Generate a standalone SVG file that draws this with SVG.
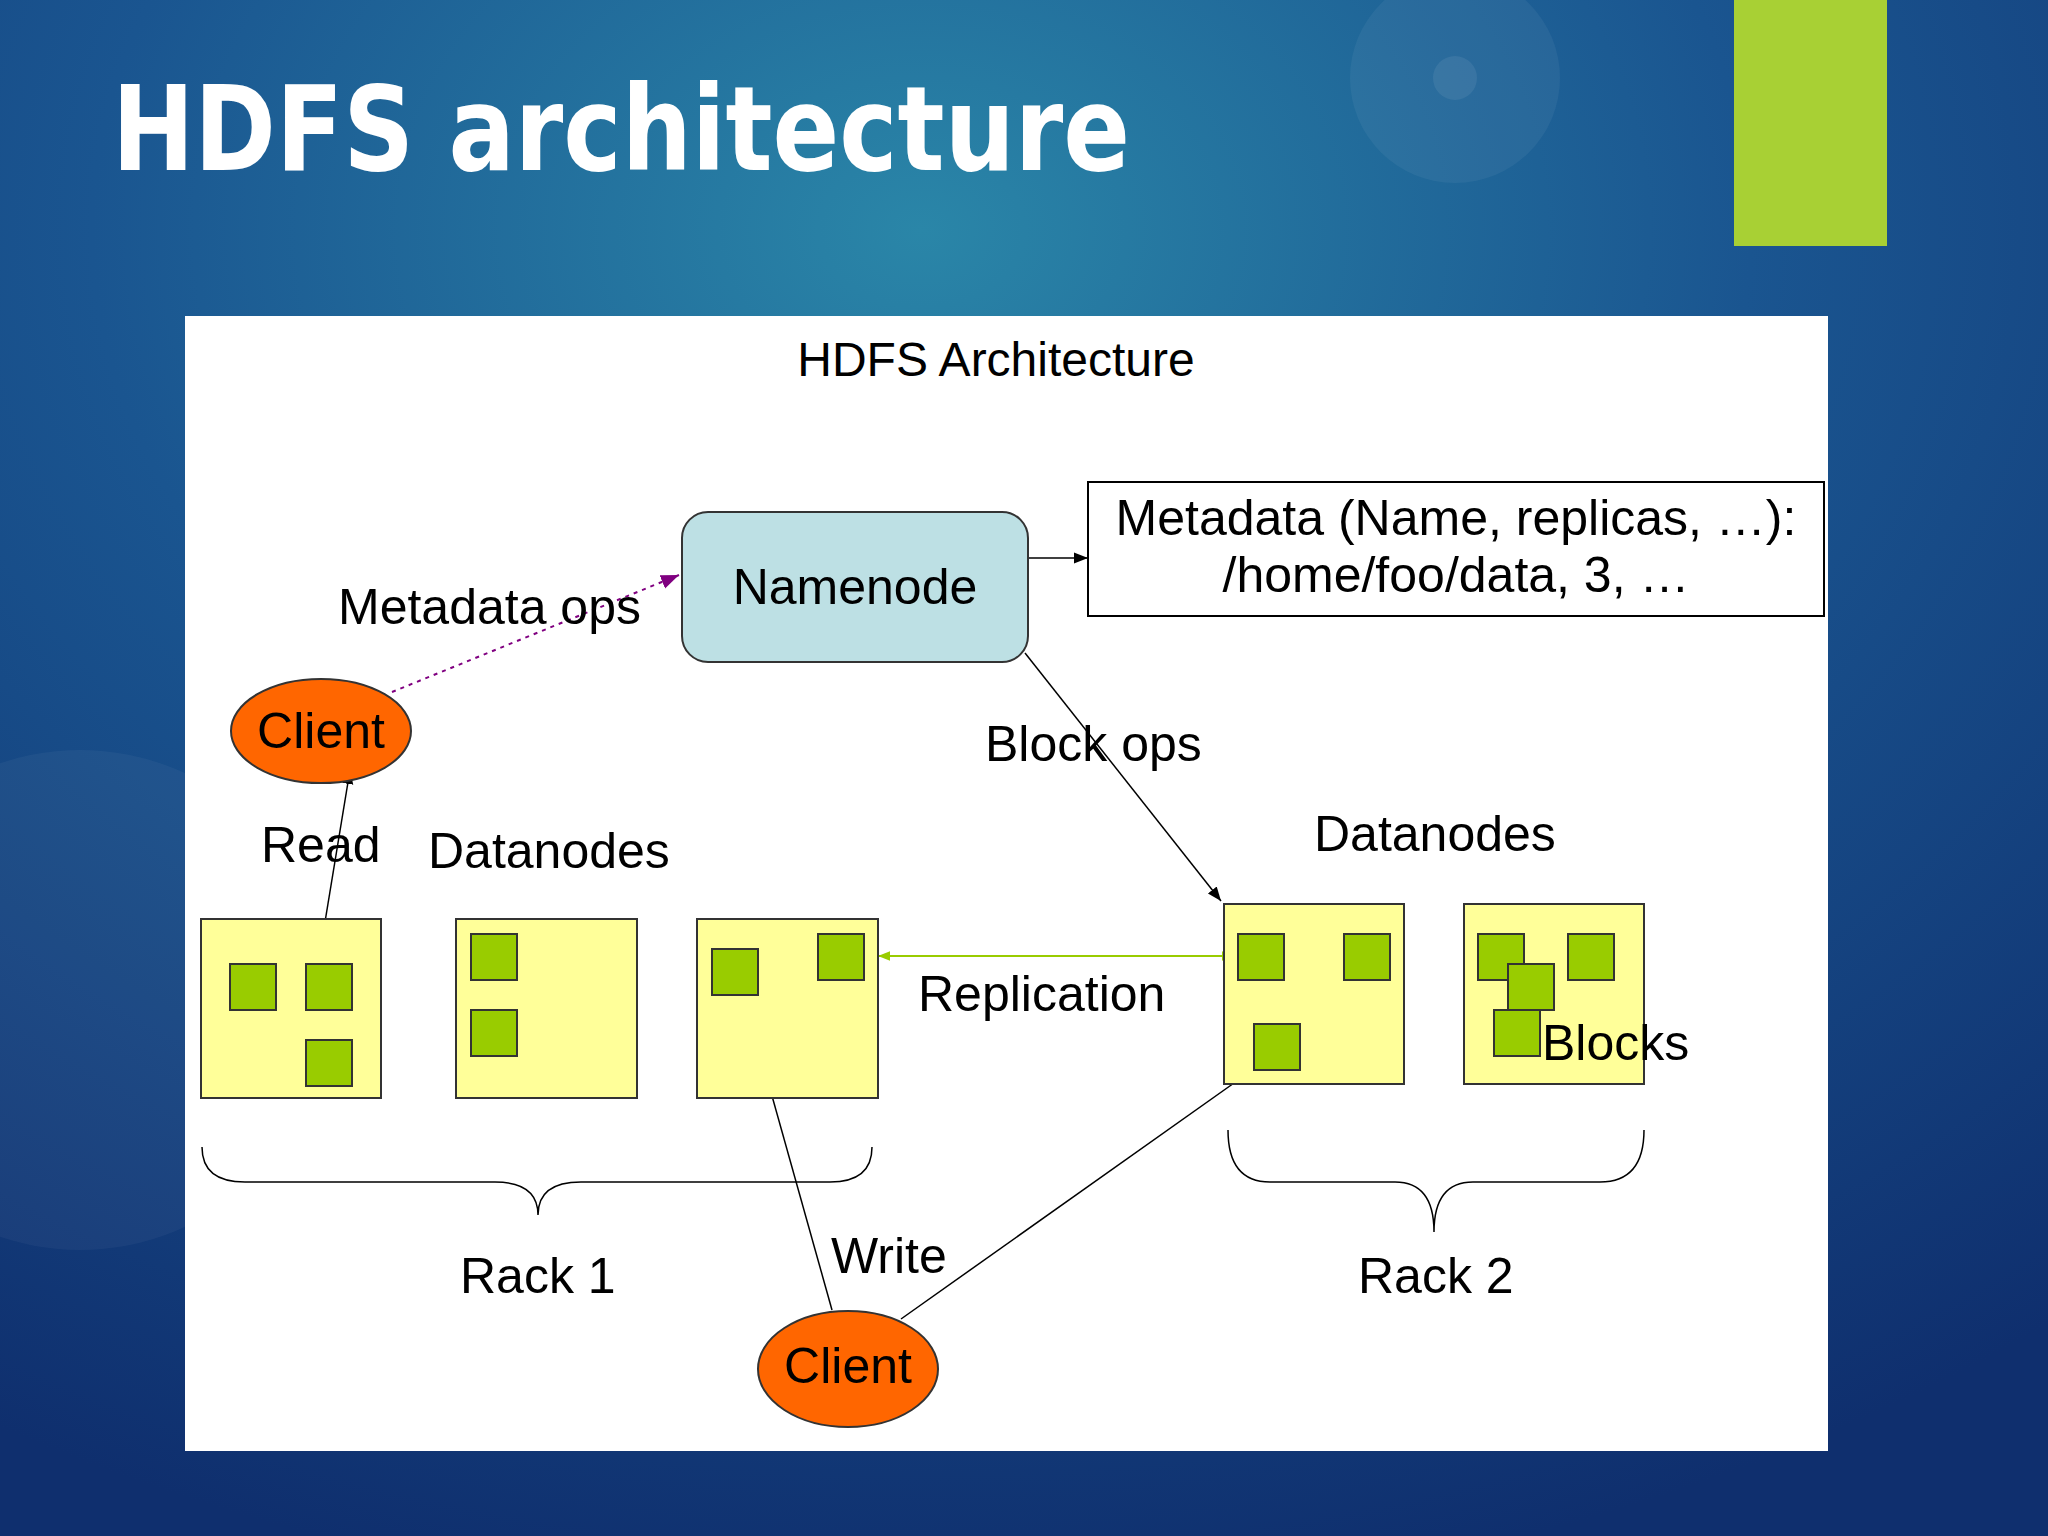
<svg xmlns="http://www.w3.org/2000/svg" width="2048" height="1536" viewBox="0 0 2048 1536">
<defs>
<radialGradient id="bg" cx="0.45" cy="0.15" r="0.9">
<stop offset="0" stop-color="#2a86a8"/><stop offset="0.45" stop-color="#1a5590"/><stop offset="1" stop-color="#0f2f6e"/>
</radialGradient>
<marker id="ab" viewBox="0 0 10 10" refX="10" refY="5" markerWidth="14" markerHeight="14" markerUnits="userSpaceOnUse" orient="auto"><path d="M0,1 L10,5 L0,9 z" fill="#000"/></marker>
<marker id="ap" viewBox="0 0 10 10" refX="10" refY="5" markerWidth="18" markerHeight="18" markerUnits="userSpaceOnUse" orient="auto"><path d="M0,1 L10,5 L0,9 z" fill="#800080"/></marker>
<marker id="ag" viewBox="0 0 10 10" refX="10" refY="5" markerWidth="12" markerHeight="12" markerUnits="userSpaceOnUse" orient="auto-start-reverse"><path d="M0,1 L10,5 L0,9 z" fill="#99cc00"/></marker>
</defs>
<style>
text{font-family:"Liberation Sans",Arial,sans-serif;fill:#000;font-size:50px}
.dn{fill:#ffff99;stroke:#333;stroke-width:2}
.bk{fill:#99cc00;stroke:#333;stroke-width:2}
.cl{fill:#ff6600;stroke:#333;stroke-width:2}
.ln{stroke:#000;stroke-width:1.5;fill:none}
</style>
<rect width="2048" height="1536" fill="url(#bg)"/>
<circle cx="1455" cy="78" r="105" fill="#ffffff" opacity="0.05"/>
<circle cx="1455" cy="78" r="22" fill="#ffffff" opacity="0.07"/>
<circle cx="80" cy="1000" r="250" fill="#ffffff" opacity="0.04"/>
<rect x="1734" y="0" width="153" height="246" fill="#a8d034"/>
<text x="112" y="170" style="font-family:'DejaVu Sans',sans-serif;font-weight:bold;font-size:118px;fill:#fff" textLength="1018" lengthAdjust="spacingAndGlyphs">HDFS architecture</text>
<rect x="185" y="316" width="1643" height="1135" fill="#fff"/>
<text x="996" y="376" font-size="48" text-anchor="middle" style="font-size:48px">HDFS Architecture</text>
<g id="connectors">
<line class="ln" x1="1028" y1="558" x2="1088" y2="558" marker-end="url(#ab)"/>
<line x1="392" y1="692" x2="679" y2="575" stroke="#800080" stroke-width="2" stroke-dasharray="4,5" marker-end="url(#ap)"/>
<line class="ln" x1="323" y1="934" x2="350" y2="770" marker-end="url(#ab)"/>
<line class="ln" x1="1025" y1="653" x2="1221" y2="901" marker-end="url(#ab)"/>
<line x1="878" y1="956" x2="1234" y2="956" stroke="#99cc00" stroke-width="2" marker-start="url(#ag)" marker-end="url(#ag)"/>
<line class="ln" x1="832" y1="1310" x2="744" y2="996" marker-end="url(#ab)"/>
<line class="ln" x1="901" y1="1319" x2="1251" y2="1071" marker-end="url(#ab)"/>
</g>
<g id="namenode"><rect x="682" y="512" width="346" height="150" rx="26" fill="#bde0e4" stroke="#333" stroke-width="2"/><text x="855" y="604" text-anchor="middle">Namenode</text></g>
<g id="metadata"><rect x="1088" y="482" width="736" height="134" fill="#fff" stroke="#000" stroke-width="2"/><text x="1456" y="535" text-anchor="middle">Metadata (Name, replicas, …):</text><text x="1456" y="592" text-anchor="middle">/home/foo/data, 3, …</text></g>
<g id="client1"><ellipse class="cl" cx="321" cy="731" rx="90" ry="52"/><text x="321" y="748" text-anchor="middle">Client</text></g>
<g id="client2"><ellipse class="cl" cx="848" cy="1369" rx="90" ry="58"/><text x="848" y="1383" text-anchor="middle">Client</text></g>
<g id="dn1"><rect class="dn" x="201" y="919" width="180" height="179"/><rect class="bk" x="230" y="964" width="46" height="46"/><rect class="bk" x="306" y="964" width="46" height="46"/><rect class="bk" x="306" y="1040" width="46" height="46"/></g>
<g id="dn2"><rect class="dn" x="456" y="919" width="181" height="179"/><rect class="bk" x="471" y="934" width="46" height="46"/><rect class="bk" x="471" y="1010" width="46" height="46"/></g>
<g id="dn3"><rect class="dn" x="697" y="919" width="181" height="179"/><rect class="bk" x="712" y="949" width="46" height="46"/><rect class="bk" x="818" y="934" width="46" height="46"/></g>
<g id="dn4"><rect class="dn" x="1224" y="904" width="180" height="180"/><rect class="bk" x="1238" y="934" width="46" height="46"/><rect class="bk" x="1344" y="934" width="46" height="46"/><rect class="bk" x="1254" y="1024" width="46" height="46"/></g>
<g id="dn5"><rect class="dn" x="1464" y="904" width="180" height="180"/><rect class="bk" x="1478" y="934" width="46" height="46"/><rect class="bk" x="1568" y="934" width="46" height="46"/><rect class="bk" x="1508" y="964" width="46" height="46"/><rect class="bk" x="1494" y="1010" width="46" height="46"/></g>
<g id="braces" fill="none" stroke="#000" stroke-width="1.5">
<path d="M202,1147 Q202,1182 245,1182 L495,1182 Q538,1182 538,1215 Q538,1182 581,1182 L830,1182 Q872,1182 872,1147"/>
<path d="M1228,1130 Q1228,1182 1270,1182 L1395,1182 Q1434,1182 1434,1232 Q1434,1182 1473,1182 L1600,1182 Q1644,1182 1644,1130"/>
</g>
<g id="labels">
<text x="338" y="624">Metadata ops</text>
<text x="261" y="862">Read</text>
<text x="428" y="868">Datanodes</text>
<text x="1314" y="851">Datanodes</text>
<text x="985" y="761">Block ops</text>
<text x="918" y="1011">Replication</text>
<text x="1542" y="1060">Blocks</text>
<text x="831" y="1273">Write</text>
<text x="460" y="1293">Rack 1</text>
<text x="1358" y="1293">Rack 2</text>
</g>
</svg>
